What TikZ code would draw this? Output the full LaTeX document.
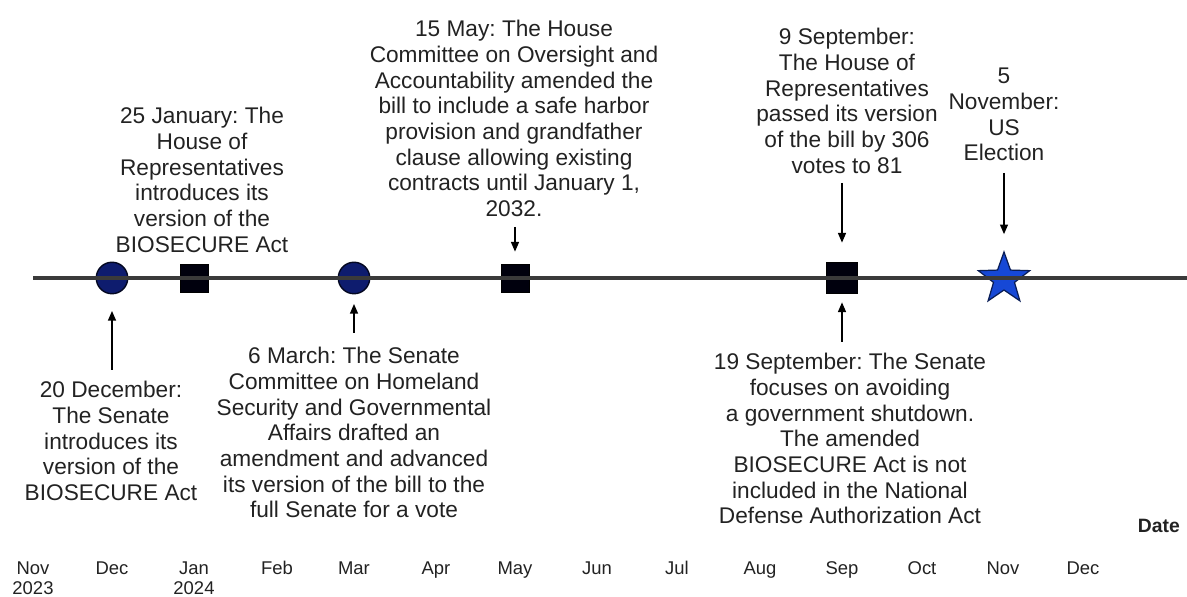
\documentclass[tikz,border=0pt]{standalone}
\usepackage{fontspec}
\setmainfont{Liberation Sans}
\usetikzlibrary{positioning,shapes.geometric,arrows.meta}
\definecolor{timelinegrey}{RGB}{58,58,58}
\definecolor{timelinetext}{RGB}{34,34,34}
\definecolor{senatenavy}{RGB}{14,28,110}
\definecolor{electionblue}{RGB}{22,72,214}
\frenchspacing
\tikzset{
  note/.style={align=center,inner sep=0pt,anchor=north,text=timelinetext,
    font=\fontsize{12.9}{14.6}\selectfont},
  senatedot/.style={circle,fill=senatenavy,draw=black!70!senatenavy,line width=0.8pt,
    minimum size=0.63cm,inner sep=0pt},
  housebox/.style={rectangle,fill=black!95!blue,draw=black,minimum size=0.56cm,inner sep=0pt},
  electionstar/.style={star,star points=5,star point ratio=2.45,fill=electionblue,
    draw=black!60!electionblue,line width=0.7pt,minimum size=1.08cm,inner sep=0pt},
  pointer/.style={-{Triangle[length=5.5pt,width=4.5pt]},line width=0.85pt,black},
  monthlabel/.style={font=\fontsize{10.5}{12}\selectfont,text=timelinetext,anchor=base}
}

\begin{document}
\begin{tikzpicture}[x=0.02cm,y=-0.02cm]
  \useasboundingbox (0,0) rectangle (1187,597);
  \clip (0,0) rectangle (1187,597);

  % markers on the axis
  \node[senatedot] (dec20) at (112,278) {};
  \node[housebox] (jan25) at (194,278) {};
  \node[senatedot] (mar6) at (354,278) {};
  \node[housebox] (may15) at (515,278) {};
  \node[housebox,minimum size=0.62cm] (sep9) at (842,278) {};
  \node[electionstar] (nov5) at (1004,279) {};
  \coordinate (axisstart) at (33,278);
  \coordinate (axisend) at (1190,278);
  \draw[timelinegrey,line width=1.8pt] (axisstart) -- (axisend);

  % notes
  \node[note] (dec20txt) at (111,381) {20 December:\\The Senate\\introduces its\\version of the\\BIOSECURE Act};
  \node[note] (jan25txt) at (202,107) {25 January: The\\House of\\Representatives\\introduces its\\version of the\\BIOSECURE Act};
  \node[note] (mar6txt) at (354,347) {6 March: The Senate\\Committee on Homeland\\Security and Governmental\\Affairs drafted an\\amendment and advanced\\its version of the bill to the\\full Senate for a vote};
  \node[note] (may15txt) at (514,20) {15 May: The House\\Committee on Oversight and\\Accountability amended the\\bill to include a safe harbor\\provision and grandfather\\clause allowing existing\\contracts until January 1,\\2032.};
  \node[note] (sep9txt) at (847,28) {9 September:\\The House of\\Representatives\\passed its version\\of the bill by 306\\votes to 81};
  \node[note] (sep19txt) at (850,353) {19 September: The Senate\\focuses on avoiding\\a government shutdown.\\The amended\\BIOSECURE Act is not\\included in the National\\Defense Authorization Act};
  \node[note] (nov5txt) at (1004,68) {5\\November:\\US\\Election};

  % pointers
  \coordinate (dec20tail) at (112,370);
  \coordinate (mar6tail) at (354,333);
  \coordinate (may15tail) at (515,227);
  \coordinate (sep9tail) at (842,183);
  \coordinate (sep19tail) at (842,342);
  \coordinate (nov5tail) at (1004,173);
  \draw[pointer,shorten >=0.33cm] (dec20tail) -- (dec20);
  \draw[pointer,shorten >=0.19cm] (mar6tail) -- (mar6);
  \draw[pointer,shorten >=0.24cm] (may15tail) -- (may15);
  \draw[pointer,shorten >=0.39cm] (sep9tail) -- (sep9);
  \draw[pointer,shorten >=0.17cm] (sep19tail) -- (sep9);
  \draw[pointer,shorten >=0.32cm] (nov5tail) -- (nov5);

  % month axis
  \foreach \mon/\xpos in {Nov/33,Dec/112,Jan/194,Feb/277,Mar/354,Apr/436,May/515,
    Jun/597,Jul/677,Aug/760,Sep/842,Oct/922,Nov/1003,Dec/1083}
    \node[monthlabel] (mon-\xpos) at (\xpos,575) {\mon};
  \node[monthlabel] (yr2023) at (33,595) {2023};
  \node[monthlabel] (yr2024) at (194,595) {2024};
  \node[font=\bfseries\fontsize{11}{13}\selectfont,anchor=base east,text=timelinetext] (datelbl) at (1186,533) {Date};
\end{tikzpicture}
\end{document}
